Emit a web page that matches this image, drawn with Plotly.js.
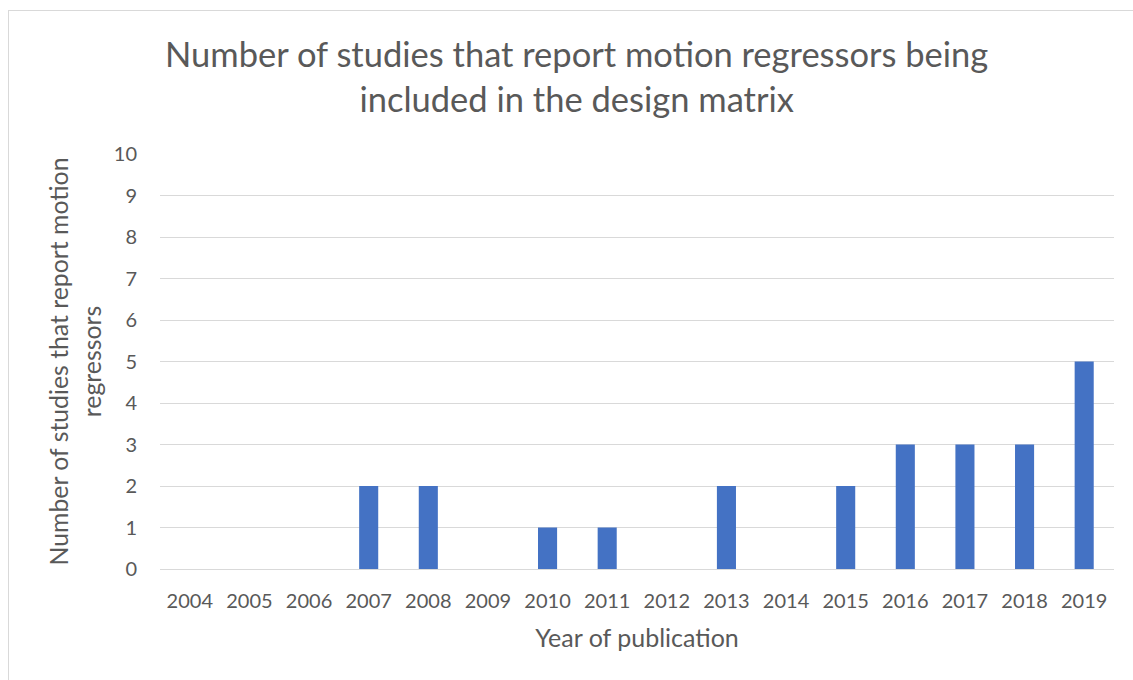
<!DOCTYPE html>
<html>
<head>
<meta charset="utf-8">
<script src="https://cdn.plot.ly/plotly-3.0.1.min.js"></script>
<style>
html,body{margin:0;padding:0;background:#fff;overflow:hidden;}
#frame{position:absolute;left:8px;top:10px;width:1200px;height:720px;border:1px solid #d9d9d9;box-sizing:border-box;}
#chart{position:absolute;left:0;top:0;width:1133px;height:680px;}
</style>
</head>
<body>
<div id="frame"></div>
<div id="chart"></div>
<script>
const years = ["2004","2005","2006","2007","2008","2009","2010","2011","2012","2013","2014","2015","2016","2017","2018","2019"];
const studies = [0,0,0,2,2,0,1,1,0,2,0,2,3,3,3,5];
const yTicks = [0,1,2,3,4,5,6,7,8,9,10];

const txt = '#595959';
const fam = 'Lato, sans-serif';

Plotly.newPlot('chart', [{
  type: 'bar',
  x: years,
  y: studies,
  marker: {color: '#4472c4'},
  hoverinfo: 'x+y'
}], {
  width: 1133, height: 680,
  paper_bgcolor: 'rgba(0,0,0,0)',
  plot_bgcolor: 'rgba(0,0,0,0)',
  margin: {l: 160, r: 19, t: 154, b: 111},
  bargap: 0.68,
  showlegend: false,
  font: {family: fam, color: txt},
  title: {
    text: 'Number of studies that report motion regressors being<br>included in the design matrix',
    font: {family: fam, size: 34.5, color: txt},
    x: 0.509, xref: 'container', xanchor: 'center',
    y: 0.901, yref: 'container', yanchor: 'top'
  },
  xaxis: {
    type: 'category',
    tickfont: {family: fam, size: 20, color: txt},
    showgrid: false,
    showline: true, linecolor: '#d9d9d9', linewidth: 1,
    ticks: '', ticklabelstandoff: 14,
    title: {text: 'Year of publication', font: {family: fam, size: 25, color: txt}, standoff: 18}
  },
  yaxis: {
    range: [0, 10],
    tickvals: yTicks,
    tickfont: {family: fam, size: 20, color: txt},
    gridcolor: '#d9d9d9', gridwidth: 1,
    zeroline: false,
    ticks: '', ticklabelstandoff: 22,
    title: {text: 'Number of studies that report motion<br>regressors', font: {family: fam, size: 24.8, color: txt}, standoff: 5}
  }
}, {displayModeBar: false, staticPlot: true});
</script>
</body>
</html>
